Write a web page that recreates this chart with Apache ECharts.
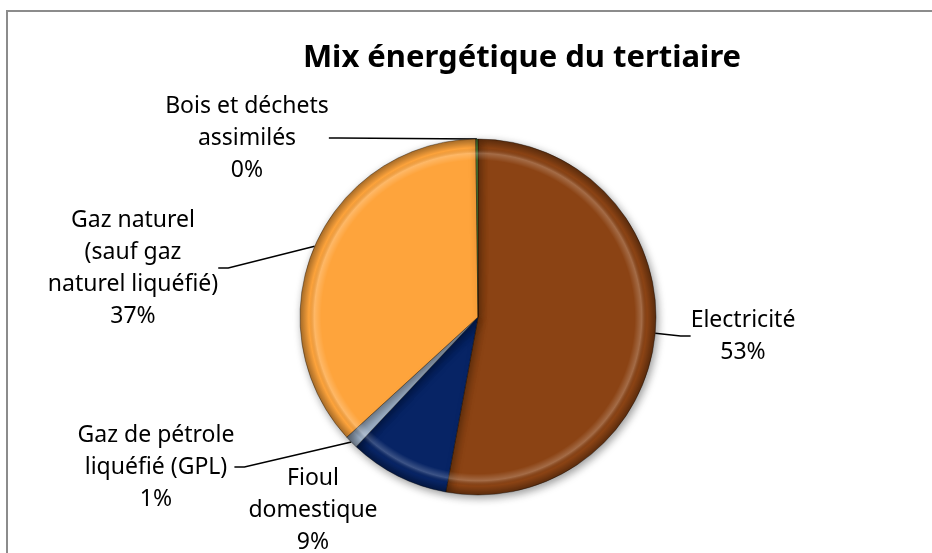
<!DOCTYPE html>
<html>
<head>
<meta charset="utf-8">
<script src="https://cdn.jsdelivr.net/npm/echarts@6/dist/echarts.min.js"></script>
<style>
  html, body { margin: 0; padding: 0; background: #fff; }
  #chart { width: 932px; height: 553px; }
</style>
</head>
<body>
<div id="chart"></div>
<script>
// données du graphique
const categories = ['Electricité', 'Fioul domestique', 'Gaz de pétrole liquéfié (GPL)', 'Gaz naturel (sauf gaz naturel liquéfié)', 'Bois et déchets assimilés']
const labelNames = ['Electricité', 'Fioul\ndomestique', 'Gaz de pétrole\nliquéfié (GPL)', 'Gaz naturel\n(sauf gaz\nnaturel liquéfié)', 'Bois et déchets\nassimilés']
const values = [52.9, 9.1, 1.2, 36.6, 0.2]
const colors = ['#8b4314', '#072465', '#9fb2c8', '#fea43c', '#4f7d33']

// position des étiquettes (centre du bloc de texte)
const labelPos = [[743, 336], [313, 510], [156, 467], [133, 268], [247, 138]]

const cx = 478, cy = 317, R = 178

const chart = echarts.init(document.getElementById('chart'), null, { renderer: 'canvas' })

const pieData = categories.map((name, i) => ({
  name: name,
  value: values[i],
  itemStyle: { color: colors[i] },
  labelLine: { show: i !== 1 }
}))

// reflet / biseau approximatif sur le bord
const rim = new echarts.graphic.RadialGradient(cx, cy, R, [
  { offset: 0, color: 'rgba(255,255,255,0)' },
  { offset: 0.88, color: 'rgba(255,255,255,0)' },
  { offset: 0.92, color: 'rgba(255,255,255,0.22)' },
  { offset: 0.95, color: 'rgba(0,0,0,0)' },
  { offset: 1, color: 'rgba(0,0,0,0.35)' }
], true)

const option = {
  backgroundColor: '#fff',
  animation: false,
  title: {
    text: 'Mix énergétique du tertiaire',
    left: 517,
    top: 38,
    textAlign: 'center',
    textStyle: {
      fontFamily: 'Noto Sans',
      fontWeight: 'bold',
      fontSize: 31,
      color: '#000'
    }
  },
  graphic: [{
    type: 'rect',
    shape: { x: 7, y: 11, width: 1000, height: 1000 },
    style: { fill: 'none', stroke: '#8c8c8c', lineWidth: 2 },
    silent: true
  }],
  series: [
    {
      type: 'pie',
      center: [cx, cy],
      radius: R,
      startAngle: 90,
      clockwise: true,
      avoidLabelOverlap: false,
      data: pieData,
      itemStyle: {
        borderColor: 'rgba(0,0,0,0.35)',
        borderWidth: 1,
        shadowBlur: 8,
        shadowOffsetX: 2,
        shadowOffsetY: 3,
        shadowColor: 'rgba(0,0,0,0.4)'
      },
      emphasis: { disabled: true },
      label: {
        show: true,
        position: 'outside',
        fontFamily: 'Noto Sans',
        fontSize: 23,
        lineHeight: 32,
        color: '#000',
        align: 'center',
        formatter: (p) => labelNames[p.dataIndex] + '\n' + Math.round(p.percent) + '%'
      },
      labelLine: {
        show: true,
        length: 10,
        length2: 10,
        lineStyle: { color: '#000', width: 1.5 }
      },
      labelLayout: (params) => ({
        x: labelPos[params.dataIndex][0],
        y: labelPos[params.dataIndex][1],
        align: 'center',
        verticalAlign: 'middle'
      })
    },
    {
      type: 'pie',
      center: [cx, cy],
      radius: R,
      startAngle: 90,
      clockwise: true,
      silent: true,
      data: values.map((v) => ({ value: v })),
      itemStyle: { color: rim, borderWidth: 0 },
      label: { show: false },
      labelLine: { show: false },
      emphasis: { disabled: true }
    }
  ]
}

chart.setOption(option)
</script>
</body>
</html>
